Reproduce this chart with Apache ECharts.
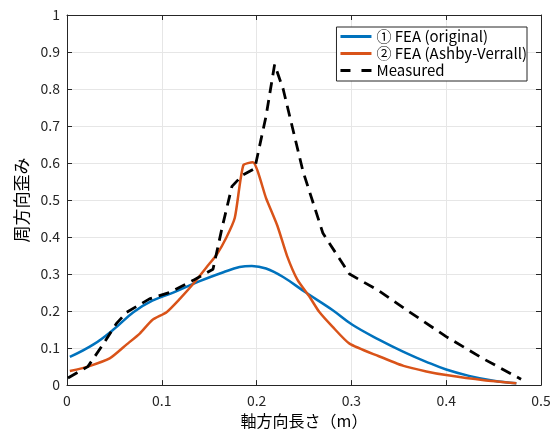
<!DOCTYPE html>
<html>
<head>
<meta charset="utf-8">
<script src="https://cdn.jsdelivr.net/npm/echarts@6/dist/echarts.min.js"></script>
<style>
  html, body { margin: 0; padding: 0; background: #fff; }
  #chart { width: 554px; height: 434px; }
</style>
</head>
<body>
<div id="chart"></div>
<script>
// 軸方向長さ (m) / 周方向歪み
const seriesNames = ['① FEA (original)', '② FEA (Ashby-Verrall)', 'Measured'];

const feaOriginal = [
  [0.003, 0.076], [0.028, 0.11], [0.049, 0.15], [0.07, 0.197], [0.09, 0.228],
  [0.112, 0.25], [0.14, 0.281], [0.165, 0.305], [0.182, 0.319], [0.195, 0.322],
  [0.21, 0.315], [0.228, 0.292], [0.252, 0.25], [0.28, 0.203], [0.301, 0.163],
  [0.329, 0.123], [0.355, 0.09], [0.379, 0.063], [0.4, 0.042], [0.424, 0.025],
  [0.45, 0.012], [0.474, 0.005]
];

const feaAshby = [
  [0.003, 0.038], [0.022, 0.05], [0.045, 0.072], [0.063, 0.11], [0.077, 0.14],
  [0.09, 0.176], [0.105, 0.197], [0.119, 0.233], [0.133, 0.273], [0.147, 0.318],
  [0.158, 0.353], [0.168, 0.398], [0.177, 0.452], [0.186, 0.594], [0.196, 0.602],
  [0.21, 0.505], [0.222, 0.43], [0.232, 0.35], [0.243, 0.285], [0.256, 0.238],
  [0.266, 0.198], [0.28, 0.158], [0.298, 0.112], [0.329, 0.078], [0.355, 0.052],
  [0.379, 0.037], [0.4, 0.027], [0.44, 0.013], [0.474, 0.005]
];

const measured = [
  [0.001, 0.019], [0.022, 0.05], [0.038, 0.11], [0.052, 0.166], [0.063, 0.197],
  [0.087, 0.233], [0.108, 0.25], [0.133, 0.283], [0.154, 0.313], [0.164, 0.43],
  [0.174, 0.537], [0.185, 0.567], [0.198, 0.585], [0.21, 0.727], [0.219, 0.866],
  [0.228, 0.8], [0.249, 0.577], [0.27, 0.41], [0.298, 0.30], [0.329, 0.255],
  [0.36, 0.2], [0.4, 0.131], [0.44, 0.07], [0.479, 0.016]
];

const font = '"Noto Sans CJK JP", "Noto Sans", sans-serif';
const axisColor = '#262626';
const gridColor = '#e6e6e6';

// legend icons: plain line and dashed line (no marker)
const solidIcon = 'path://M0,0H31V3H0Z';
const dashIcon = 'path://M0,0H10V3H0Z M21,0H31V3H21Z';

const chart = echarts.init(document.getElementById('chart'));

chart.setOption({
  animation: false,
  backgroundColor: '#fff',
  textStyle: { fontFamily: font },
  grid: { left: 67, right: 13, top: 15, bottom: 45 },
  legend: {
    data: [
      { name: seriesNames[0], icon: solidIcon },
      { name: seriesNames[1], icon: solidIcon },
      { name: seriesNames[2], icon: dashIcon }
    ],
    orient: 'vertical',
    right: 27,
    top: 27,
    itemWidth: 31,
    itemHeight: 3,
    itemGap: 2,
    padding: [2, 0, 3, 4],
    borderColor: '#262626',
    borderWidth: 1,
    borderRadius: 0,
    backgroundColor: '#fff',
    textStyle: { fontFamily: font, fontSize: 15, color: '#000' }
  },
  xAxis: [{
    type: 'value',
    min: 0, max: 0.5, interval: 0.1,
    name: '軸方向長さ（m）',
    nameLocation: 'middle',
    nameGap: 26,
    nameTextStyle: { fontFamily: font, fontSize: 16, color: '#000' },
    axisLine: { show: true, onZero: false, lineStyle: { color: axisColor, width: 1 } },
    axisTick: { show: true, inside: true, length: 5, lineStyle: { color: axisColor } },
    axisLabel: { fontFamily: font, fontSize: 14, color: axisColor, margin: 9 },
    splitLine: { show: true, lineStyle: { color: gridColor, width: 1 } }
  }, {
    type: 'value', position: 'top',
    min: 0, max: 0.5, interval: 0.1,
    axisLine: { show: true, onZero: false, lineStyle: { color: axisColor, width: 1 } },
    axisTick: { show: true, inside: true, length: 5, lineStyle: { color: axisColor } },
    axisLabel: { show: false },
    splitLine: { show: false }
  }],
  yAxis: [{
    type: 'value',
    min: 0, max: 1, interval: 0.1,
    name: '周方向歪み',
    nameLocation: 'middle',
    nameGap: 36,
    nameTextStyle: { fontFamily: font, fontSize: 17, color: '#000' },
    axisLine: { show: true, onZero: false, lineStyle: { color: axisColor, width: 1 } },
    axisTick: { show: true, inside: true, length: 5, lineStyle: { color: axisColor } },
    axisLabel: { fontFamily: font, fontSize: 14, color: axisColor, margin: 7 },
    splitLine: { show: true, lineStyle: { color: gridColor, width: 1 } }
  }, {
    type: 'value', position: 'right',
    min: 0, max: 1, interval: 0.1,
    axisLine: { show: true, onZero: false, lineStyle: { color: axisColor, width: 1 } },
    axisTick: { show: true, inside: true, length: 5, lineStyle: { color: axisColor } },
    axisLabel: { show: false },
    splitLine: { show: false }
  }],
  series: [{
    name: seriesNames[0],
    type: 'line',
    data: feaOriginal,
    smooth: 0.4,
    symbol: 'none',
    lineStyle: { color: '#0072BD', width: 2.5 },
    itemStyle: { color: '#0072BD' }
  }, {
    name: seriesNames[1],
    type: 'line',
    data: feaAshby,
    smooth: 0.2,
    symbol: 'none',
    lineStyle: { color: '#D95319', width: 2.5 },
    itemStyle: { color: '#D95319' }
  }, {
    name: seriesNames[2],
    type: 'line',
    data: measured,
    symbol: 'none',
    lineStyle: { color: '#000', width: 2.8, type: [11, 7] },
    itemStyle: { color: '#000' }
  }]
});
</script>
</body>
</html>
